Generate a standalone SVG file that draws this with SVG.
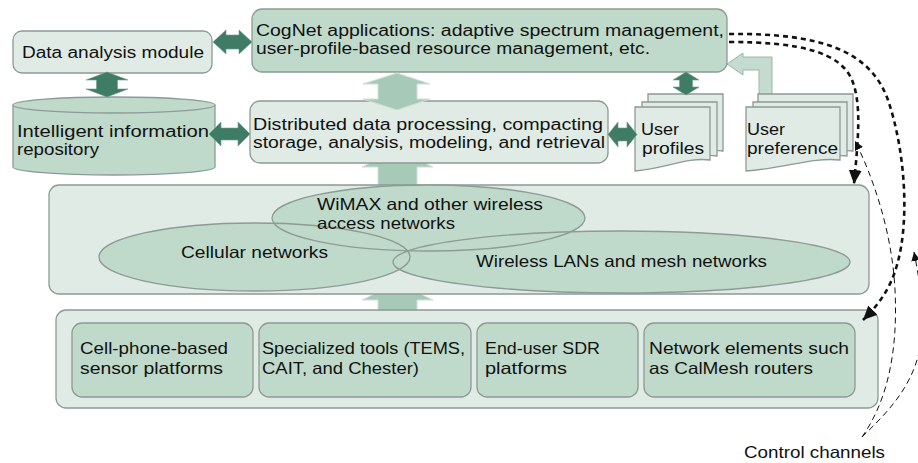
<svg xmlns="http://www.w3.org/2000/svg" width="918" height="463" viewBox="0 0 918 463">
<style>
text{font-family:"Liberation Sans","Noto Sans",Arial,sans-serif;fill:#111;}
.t{font-size:16px;}
.s{font-size:16.5px;}
.lt{fill:#dfebe4;stroke:#8d9b94;stroke-width:1.3;}
.md{fill:#bfdacb;stroke:#8d9b94;stroke-width:1.3;}
.mdf{fill:#bfdacb;stroke:none;}
.ol{fill:none;stroke:#8d9b94;stroke-width:1.3;}
.dk{fill:#3e7c66;stroke:#6f9c8a;stroke-width:0.6;}
.la{fill:#a7cab8;stroke:#cfe0d6;stroke-width:1;}
.pa{fill:#c3dccf;stroke:#9fb5a8;stroke-width:1;}
.thick{fill:none;stroke:#111;stroke-width:2.6;stroke-dasharray:5 4;}
.thin{fill:none;stroke:#111;stroke-width:1;stroke-dasharray:6 4;}
</style>
<defs>
<marker id="bigHead" markerUnits="userSpaceOnUse" markerWidth="15" markerHeight="13" refX="14" refY="6.5" orient="auto">
<path d="M0,0 L14,6.5 L0,13 z" fill="#111"/>
</marker>
<marker id="smallHead" markerUnits="userSpaceOnUse" markerWidth="10" markerHeight="9" refX="9" refY="4.5" orient="auto">
<path d="M0,0 L9,4.5 L0,9 z" fill="#111"/>
</marker>
</defs>

<!-- hidden-head light arrows behind panels -->
<g id="flow-arrows-back">
<polygon class="la" points="378,190 378,167 362,167 397,150 433,167 417,167 417,190"/>
<polygon class="la" points="378,314 378,300 362,300 397,283 433,300 417,300 417,314"/>
<polygon class="pa" points="772,98 772,57 743,57 743,53 727,64 743,75 743,70 759,70 759,98"/>
</g>

<g id="data-analysis">
<rect class="lt" x="13" y="31" width="199" height="42" rx="9"/>
<text class="t" x="22" y="58" textLength="182" lengthAdjust="spacingAndGlyphs">Data analysis module</text>
</g>

<g id="cognet-apps">
<rect class="md" x="252" y="9" width="475" height="63" rx="10"/>
<text class="t" x="256" y="36" textLength="468" lengthAdjust="spacingAndGlyphs">CogNet applications: adaptive spectrum management,</text>
<text class="t" x="256" y="54" textLength="394" lengthAdjust="spacingAndGlyphs">user-profile-based resource management, etc.</text>
</g>

<g id="repository">
<path class="md" d="M13,105 V167 A101,8 0 0 0 215,167 V105"/>
<ellipse class="md" cx="114" cy="105" rx="101" ry="8"/>
<text class="t" x="17" y="137" textLength="192" lengthAdjust="spacingAndGlyphs">Intelligent information</text>
<text class="t" x="17" y="155" textLength="82" lengthAdjust="spacingAndGlyphs">repository</text>
</g>

<g id="distributed">
<rect class="lt" x="250" y="101" width="358" height="62" rx="10"/>
<text class="t" x="253" y="130" textLength="350" lengthAdjust="spacingAndGlyphs">Distributed data processing, compacting</text>
<text class="t" x="253" y="148" textLength="352" lengthAdjust="spacingAndGlyphs">storage, analysis, modeling, and retrieval</text>
</g>

<g id="user-profiles">
<path class="lt" d="M648,94 H723 V151 C700,148 680,158 648,161 Z"/>
<path class="lt" d="M642,102 H717 V156 C694,153 674,163 642,166 Z"/>
<path class="lt" d="M635,107 H710 V160 C687,157 667,168 635,171 Z"/>
<text class="t" x="641" y="135" textLength="38" lengthAdjust="spacingAndGlyphs">User</text>
<text class="t" x="642" y="154" textLength="62" lengthAdjust="spacingAndGlyphs">profiles</text>
</g>

<g id="user-preference">
<path class="lt" d="M758,94 H853 V151 C825,148 800,158 758,161 Z"/>
<path class="lt" d="M753,102 H847 V156 C819,153 794,163 753,166 Z"/>
<path class="lt" d="M746,107 H840 V160 C812,157 787,168 746,171 Z"/>
<text class="t" x="747" y="135" textLength="38" lengthAdjust="spacingAndGlyphs">User</text>
<text class="t" x="747" y="154" textLength="91" lengthAdjust="spacingAndGlyphs">preference</text>
</g>

<g id="access-networks">
<rect class="lt" x="49" y="185" width="820" height="109" rx="10"/>
<ellipse class="mdf" cx="428.5" cy="218" rx="156.5" ry="33"/>
<ellipse class="mdf" cx="254.5" cy="257" rx="155.5" ry="34"/>
<ellipse class="mdf" cx="621.5" cy="262" rx="228.5" ry="31"/>
<ellipse class="ol" cx="428.5" cy="218" rx="156.5" ry="33"/>
<ellipse class="ol" cx="254.5" cy="257" rx="155.5" ry="34"/>
<ellipse class="ol" cx="621.5" cy="262" rx="228.5" ry="31"/>
<text class="s" x="317" y="210" textLength="226" lengthAdjust="spacingAndGlyphs">WiMAX and other wireless</text>
<text class="s" x="317" y="229" textLength="138" lengthAdjust="spacingAndGlyphs">access networks</text>
<text class="s" x="181" y="258" textLength="147" lengthAdjust="spacingAndGlyphs">Cellular networks</text>
<text class="s" x="476" y="267" textLength="291" lengthAdjust="spacingAndGlyphs">Wireless LANs and mesh networks</text>
</g>

<g id="sensing-platforms">
<rect class="lt" x="56" y="310" width="822" height="98" rx="10"/>
<g id="cell-phone">
<rect class="md" x="72" y="323" width="181" height="74" rx="10"/>
<text class="s" x="80" y="354" textLength="148" lengthAdjust="spacingAndGlyphs">Cell-phone-based</text>
<text class="s" x="80" y="374" textLength="143" lengthAdjust="spacingAndGlyphs">sensor platforms</text>
</g>
<g id="specialized-tools">
<rect class="md" x="259" y="323" width="212" height="74" rx="10"/>
<text class="s" x="262" y="354" textLength="203" lengthAdjust="spacingAndGlyphs">Specialized tools (TEMS,</text>
<text class="s" x="262" y="374" textLength="157" lengthAdjust="spacingAndGlyphs">CAIT, and Chester)</text>
</g>
<g id="sdr">
<rect class="md" x="477" y="323" width="161" height="74" rx="10"/>
<text class="s" x="485" y="354" textLength="115" lengthAdjust="spacingAndGlyphs">End-user SDR</text>
<text class="s" x="485" y="374" textLength="82" lengthAdjust="spacingAndGlyphs">platforms</text>
</g>
<g id="network-elements">
<rect class="md" x="644" y="323" width="211" height="74" rx="10"/>
<text class="s" x="649" y="354" textLength="200" lengthAdjust="spacingAndGlyphs">Network elements such</text>
<text class="s" x="649" y="374" textLength="164" lengthAdjust="spacingAndGlyphs">as CalMesh routers</text>
</g>
</g>

<g id="connectors">
<polygon class="dk" points="213,42 226,30 226,35 239,35 239,30 252,42 239,54 239,49 226,49 226,54"/>
<polygon class="dk" points="107,72 128,80 117.5,80 117.5,89 128,89 107,97 86,89 96.5,89 96.5,80 86,80"/>
<polygon class="dk" points="209,134 221,122 221,128 238,128 238,122 250,134 238,146 238,140 221,140 221,146"/>
<polygon class="dk" points="608,134.5 618,122 618,128 627,128 627,122 637,134.5 627,147 627,141 618,141 618,147"/>
<polygon class="dk" points="686,72 699,80 692.5,80 692.5,87 699,87 686,95 673,87 679.5,87 679.5,80 673,80"/>
<polygon class="la" points="397,73 430,84 417,84 417,99 430,99 397,110 363,99 378,99 378,84 363,84"/>
<path class="thick" d="M729,34 C820,33 870,50 888,100 C905,150 910,220 897,265 C890,290 878,305 863,320" marker-end="url(#bigHead)"/>
<path class="thick" d="M729,42 C800,42 840,52 852,80 C862,105 858,140 854,184" marker-end="url(#bigHead)"/>
<path class="thin" d="M862,437 C888,400 898,350 895,290 C892,230 872,175 855,141" marker-end="url(#smallHead)"/>
<path class="thin" d="M862,437 C890,410 920,380 922,330 C923,300 918,272 914,252" marker-end="url(#smallHead)"/>
</g>

<text id="control-label" class="s" x="744" y="458" textLength="141" lengthAdjust="spacingAndGlyphs">Control channels</text>
</svg>
